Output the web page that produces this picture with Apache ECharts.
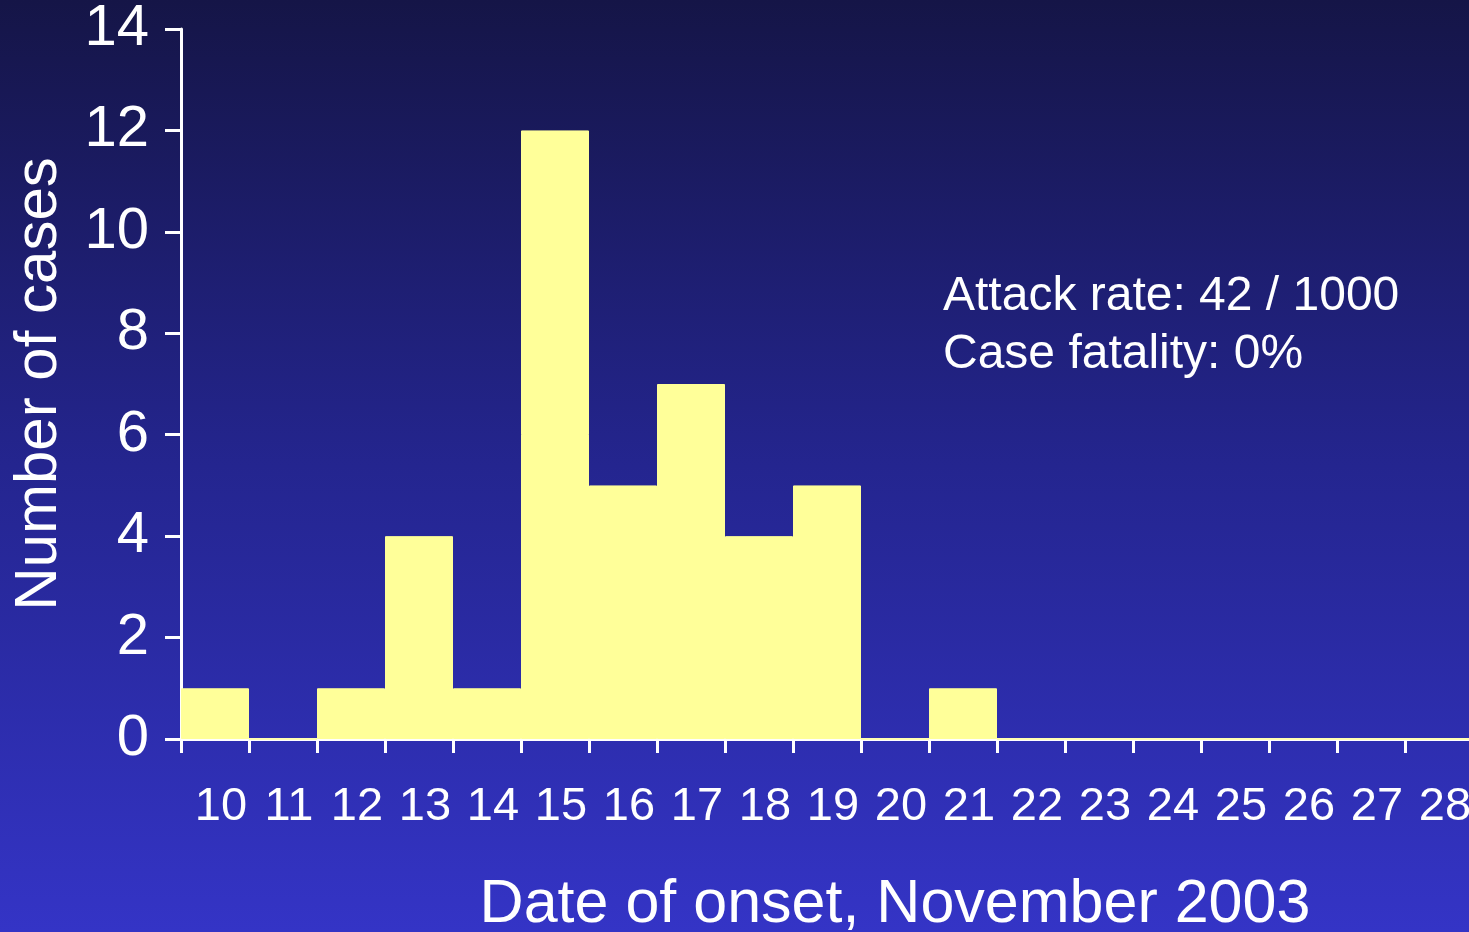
<!DOCTYPE html>
<html>
<head>
<meta charset="utf-8">
<script src="https://cdn.jsdelivr.net/npm/echarts@6/dist/echarts.min.js"></script>
<style>
  html, body { margin: 0; padding: 0; }
  #main { width: 1469px; height: 932px; }
</style>
</head>
<body>
<div id="main"></div>
<script>
// onset dates, November 2003
const days = ['10', '11', '12', '13', '14', '15', '16', '17', '18', '19',
  '20', '21', '22', '23', '24', '25', '26', '27', '28']
const cases = [1, 0, 1, 4, 1, 12, 5, 7, 4, 5, 0, 1, 0, 0, 0, 0, 0, 0, 0]
const notes = ['Attack rate: 42 / 1000', 'Case fatality: 0%']

const font = 'Liberation Sans, Arial, sans-serif'
const chart = echarts.init(document.getElementById('main'))

const option = {
  backgroundColor: new echarts.graphic.LinearGradient(0, 0, 0, 1, [
    { offset: 0, color: '#151547' },
    { offset: 0.5, color: '#24258f' },
    { offset: 1, color: '#3434c6' }
  ]),
  animation: false,
  grid: { left: 181, top: 29, width: 1292, height: 710, containLabel: false, outerBoundsMode: 'none' },
  xAxis: {
    type: 'category',
    data: days,
    name: 'Date of onset, November 2003',
    nameLocation: 'middle',
    nameGap: 136,
    nameTextStyle: { color: '#fff', fontSize: 61, fontFamily: font, padding: [0, 0, 0, 136] },
    axisLine: { lineStyle: { color: '#fff', width: 3 } },
    axisTick: { show: true, length: 14, lineStyle: { color: '#fff', width: 3 } },
    axisLabel: { color: '#fff', fontSize: 47, fontFamily: font, margin: 45, padding: [0, 0, 0, 12], interval: 0 }
  },
  yAxis: {
    type: 'value',
    min: 0,
    max: 14,
    interval: 2,
    name: 'Number of cases',
    nameLocation: 'middle',
    nameGap: 112,
    nameTextStyle: { color: '#fff', fontSize: 60, fontFamily: font },
    splitLine: { show: false },
    axisLine: { show: true, lineStyle: { color: '#fff', width: 3 } },
    axisTick: { show: true, length: 16, lineStyle: { color: '#fff', width: 3 } },
    axisLabel: { color: '#fff', fontSize: 58, fontFamily: font, margin: 32, padding: [8, 0, 0, 0] }
  },
  graphic: [
    {
      type: 'text',
      left: 943,
      top: 268,
      style: { text: notes.join('\n'), fill: '#fff', fontSize: 48, fontFamily: font, lineHeight: 58 }
    }
  ],
  series: [
    {
      type: 'bar',
      data: cases,
      barCategoryGap: 0,
      itemStyle: { color: '#ffff99', borderColor: '#ffff99', borderWidth: 1 }
    }
  ]
}
chart.setOption(option)
window.addEventListener('resize', () => chart.resize())
</script>
</body>
</html>
